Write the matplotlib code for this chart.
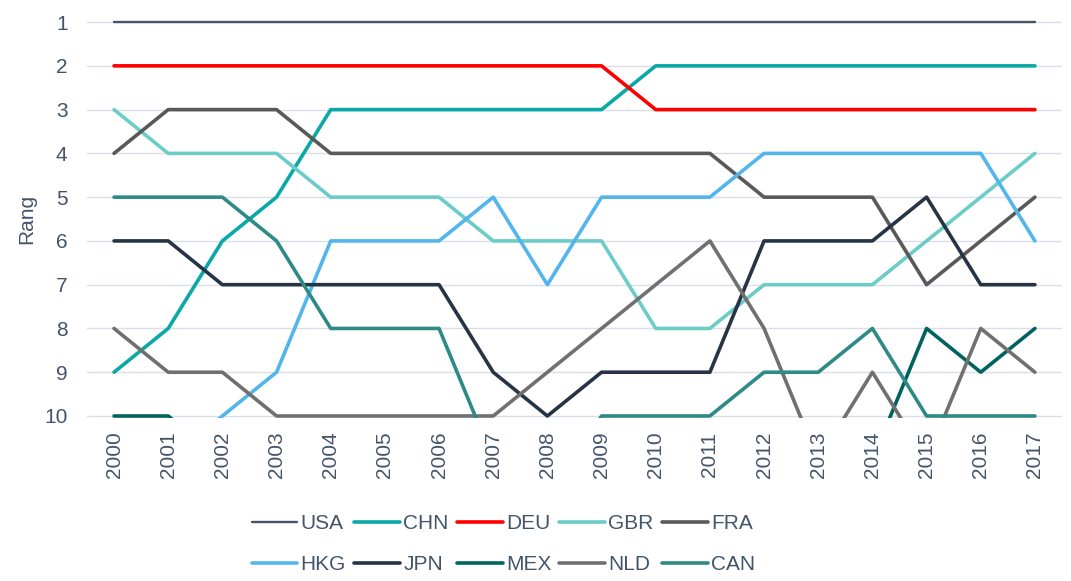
import matplotlib
matplotlib.use("Agg")
import matplotlib.pyplot as plt

plt.rcParams['font.family'] = ['Liberation Sans', 'DejaVu Sans']

years = list(range(2000, 2018))

# ranks per country (values > 10 fall outside the visible axis)
usa = [1] * 18
chn = [9, 8, 6, 5, 3, 3, 3, 3, 3, 3, 2, 2, 2, 2, 2, 2, 2, 2]
deu = [2, 2, 2, 2, 2, 2, 2, 2, 2, 2, 3, 3, 3, 3, 3, 3, 3, 3]
gbr = [3, 4, 4, 4, 5, 5, 5, 6, 6, 6, 8, 8, 7, 7, 7, 6, 5, 4]
fra = [4, 3, 3, 3, 4, 4, 4, 4, 4, 4, 4, 4, 5, 5, 5, 7, 6, 5]
hkg = [12, 11, 10, 9, 6, 6, 6, 5, 7, 5, 5, 5, 4, 4, 4, 4, 4, 6]
jpn = [6, 6, 7, 7, 7, 7, 7, 9, 10, 9, 9, 9, 6, 6, 6, 5, 7, 7]
mex = [10, 10, 11, 12, 12, 12, 12, 12, 12, 12, 12, 12, 12, 12, 11, 8, 9, 8]
nld = [8, 9, 9, 10, 10, 10, 10, 10, 9, 8, 7, 6, 8, 11, 9, 11, 8, 9]
can = [5, 5, 5, 6, 8, 8, 8, 11, 12, 10, 10, 10, 9, 9, 8, 10, 10, 10]

series = [("USA", usa, "#44546a", 1.7), ("CHN", chn, "#0aa8a6", 2.6),
          ("DEU", deu, "#ff0000", 2.6), ("GBR", gbr, "#6ccdc8", 2.6),
          ("FRA", fra, "#595959", 2.6), ("HKG", hkg, "#52b6ec", 2.6),
          ("JPN", jpn, "#263445", 2.6), ("MEX", mex, "#006360", 2.6),
          ("NLD", nld, "#707070", 2.6), ("CAN", can, "#2e8a85", 2.6)]

TXT = "#44546a"
fig = plt.figure(figsize=(10.71, 5.81), dpi=100)
ax = fig.add_axes([0.0812, 0.281, 0.9104, 0.684])

lines = []
for name, vals, col, lw in series:
    ln, = ax.plot(years, vals, color=col, lw=lw, label=name,
                  solid_capstyle="round", solid_joinstyle="round")
    lines.append(ln)

ax.set_xlim(1999.5, 2017.5)
ax.set_ylim(10.04, 0.96)
ax.set_yticks(range(1, 11))
ax.set_xticks(years)
ax.set_xticklabels([str(y) for y in years], rotation=90)
ax.grid(axis="y", color="#d9dee8", lw=1)
ax.set_axisbelow(True)
for s in ax.spines.values():
    s.set_visible(False)
ax.tick_params(axis="y", length=0, pad=14, labelsize=15, labelcolor=TXT)
ax.tick_params(axis="x", length=0, pad=10, labelsize=15, labelcolor=TXT)
ax.set_ylabel("Rang", fontsize=15, color=TXT, labelpad=6)

# legend fills column-wise, so interleave to get row order
order = [0, 5, 1, 6, 2, 7, 3, 8, 4, 9]
fig.legend([lines[i] for i in order], [series[i][0] for i in order],
           loc="center", bbox_to_anchor=(0.47, 0.063), ncol=5, frameon=False,
           fontsize=15, handlelength=2.2, handletextpad=0.15, columnspacing=0.4,
           labelspacing=1.05, labelcolor=TXT)

fig.savefig("out.png", dpi=100)
